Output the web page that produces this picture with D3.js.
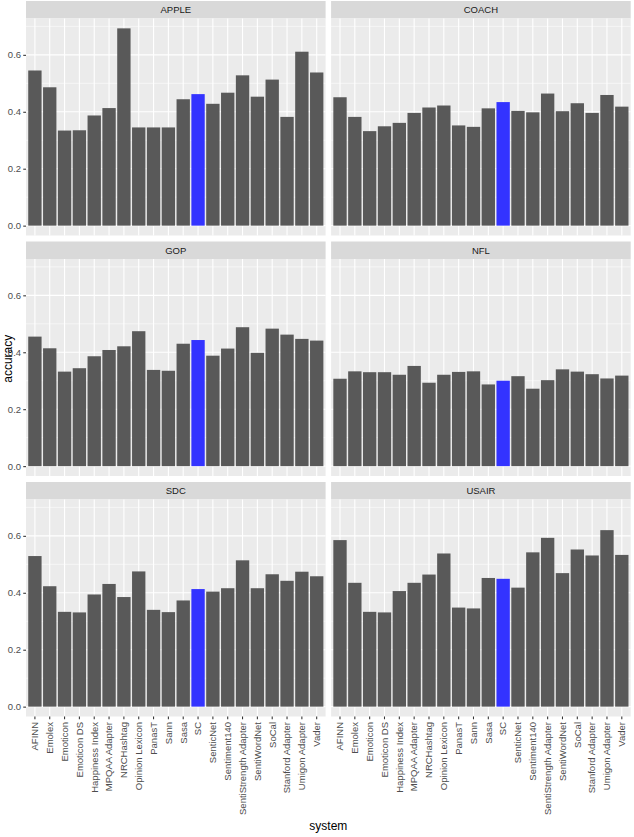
<!DOCTYPE html>
<html>
<head>
<meta charset="utf-8">
<script src="https://cdn.jsdelivr.net/npm/d3@7"></script>
<style>
  body { margin: 0; background: #fff; }
  svg { display: block; font-family: "Liberation Sans", Arial, sans-serif; }
</style>
</head>
<body>
<svg id="chart" width="634" height="837"></svg>
<script>
const systems = ["AFINN", "Emolex", "Emoticon", "Emoticon DS", "Happiness Index", "MPQAA Adapter",
  "NRCHashtag", "Opinion Lexicon", "PanasT", "Sann", "Sasa", "SC", "SenticNet", "Sentiment140",
  "SentiStrength Adapter", "SentiWordNet", "SoCal", "Stanford Adapter", "Umigon Adapter", "Vader"];

const datasets = ["APPLE", "COACH", "GOP", "NFL", "SDC", "USAIR"];

const apple = [0.545, 0.486, 0.334, 0.335, 0.387, 0.413, 0.693, 0.345, 0.345, 0.345,
  0.444, 0.462, 0.428, 0.467, 0.528, 0.453, 0.513, 0.382, 0.611, 0.538];
const coach = [0.451, 0.382, 0.332, 0.349, 0.361, 0.396, 0.415, 0.422, 0.352, 0.347,
  0.412, 0.434, 0.403, 0.398, 0.464, 0.402, 0.430, 0.396, 0.459, 0.418];
const gop = [0.455, 0.414, 0.332, 0.344, 0.386, 0.408, 0.421, 0.474, 0.338, 0.335,
  0.430, 0.443, 0.388, 0.413, 0.488, 0.398, 0.483, 0.462, 0.447, 0.441];
const nfl = [0.307, 0.333, 0.330, 0.330, 0.321, 0.352, 0.293, 0.321, 0.331, 0.333,
  0.287, 0.300, 0.316, 0.272, 0.302, 0.340, 0.332, 0.323, 0.308, 0.318];
const sdc = [0.529, 0.423, 0.333, 0.331, 0.394, 0.431, 0.385, 0.475, 0.340, 0.332,
  0.373, 0.413, 0.404, 0.416, 0.514, 0.416, 0.465, 0.442, 0.474, 0.458];
const usair = [0.585, 0.435, 0.333, 0.331, 0.406, 0.435, 0.464, 0.538, 0.348, 0.345,
  0.452, 0.449, 0.418, 0.542, 0.593, 0.469, 0.552, 0.531, 0.620, 0.533];

const yTicks = [0, 0.2, 0.4, 0.6];
const yMinor = [0.1, 0.3, 0.5, 0.7];
const highlight = "SC";

const seriesValues = [apple, coach, gop, nfl, sdc, usair];

// layout (ggplot facet_wrap, 2 columns x 3 rows)
const left = 26, right = 630.7, gap = 5.5;
const pw = (right - left - gap) / 2;
const stripH = 17.5, ph = 217, rowStep = 240.5, top0 = 1;

const svg = d3.select("#chart");

const x = d3.scaleBand().domain(systems).range([0, pw])
  .paddingInner(0.1).paddingOuter(0.15);

const ymax = d3.max(seriesValues.flat());
const pad = ymax * 0.05;
const y = d3.scaleLinear().domain([-pad, ymax + pad]).range([ph, 0]);

datasets.forEach(function(name, i) {
  const col = i % 2, row = Math.floor(i / 2);
  const px = left + col * (pw + gap);
  const sy = top0 + row * rowStep;
  const py = sy + stripH;
  const vals = seriesValues[i];

  // strip
  svg.append("rect").attr("x", px).attr("y", sy).attr("width", pw).attr("height", stripH)
    .attr("fill", "#d9d9d9");
  svg.append("text").attr("x", px + pw / 2).attr("y", sy + stripH / 2 + 3.3)
    .attr("text-anchor", "middle").attr("font-size", 9.5).attr("fill", "#1a1a1a")
    .text(name);

  const g = svg.append("g").attr("transform", "translate(" + px + "," + py + ")");
  g.append("rect").attr("width", pw).attr("height", ph).attr("fill", "#ebebeb");

  g.selectAll(".minor").data(yMinor).enter().append("line")
    .attr("x1", 0).attr("x2", pw)
    .attr("y1", d => y(d)).attr("y2", d => y(d))
    .attr("stroke", "#fff").attr("stroke-width", 0.55);
  g.selectAll(".major").data(yTicks).enter().append("line")
    .attr("x1", 0).attr("x2", pw)
    .attr("y1", d => y(d)).attr("y2", d => y(d))
    .attr("stroke", "#fff").attr("stroke-width", 1.1);
  g.selectAll(".vgrid").data(systems).enter().append("line")
    .attr("x1", d => x(d) + x.bandwidth() / 2).attr("x2", d => x(d) + x.bandwidth() / 2)
    .attr("y1", 0).attr("y2", ph)
    .attr("stroke", "#fff").attr("stroke-width", 1.1);

  g.selectAll(".bar").data(systems).enter().append("rect")
    .attr("x", d => x(d))
    .attr("width", x.bandwidth())
    .attr("y", (d, j) => y(vals[j]))
    .attr("height", (d, j) => y(0) - y(vals[j]))
    .attr("fill", d => d === highlight ? "#3333ff" : "#595959");

  // y axis on left column
  if (col === 0) {
    const ya = g.append("g").call(d3.axisLeft(y).tickValues(yTicks)
      .tickFormat(d3.format(".1f")).tickSize(2.75).tickPadding(2.2));
    ya.select(".domain").remove();
    ya.selectAll("line").attr("stroke", "#333").attr("stroke-width", 1.07);
    ya.selectAll("text").attr("font-size", 9.5).attr("fill", "#4d4d4d")
      .attr("font-family", "Liberation Sans, Arial, sans-serif");
  }

  // x axis on bottom row
  if (row === 2) {
    const xa = g.append("g").attr("transform", "translate(0," + ph + ")")
      .call(d3.axisBottom(x).tickSize(2.75).tickPadding(0));
    xa.select(".domain").remove();
    xa.selectAll("line").attr("stroke", "#333").attr("stroke-width", 1.07);
    xa.selectAll("text")
      .attr("font-size", 9.5).attr("fill", "#4d4d4d")
      .attr("font-family", "Liberation Sans, Arial, sans-serif")
      .attr("text-anchor", "end")
      .attr("dy", null)
      .attr("y", 0)
      .attr("transform", "translate(3.3,5.5) rotate(-90)");
  }
});

// axis titles
const plotBottom = top0 + 2 * rowStep + stripH + ph;
svg.append("text").attr("x", left + (right - left) / 2).attr("y", 830)
  .attr("text-anchor", "middle").attr("font-size", 12).attr("fill", "#000")
  .text("system");
svg.append("text")
  .attr("transform", "translate(11.5," + ((top0 + plotBottom) / 2) + ") rotate(-90)")
  .attr("text-anchor", "middle").attr("font-size", 12).attr("fill", "#000")
  .text("accuracy");
</script>
</body>
</html>
